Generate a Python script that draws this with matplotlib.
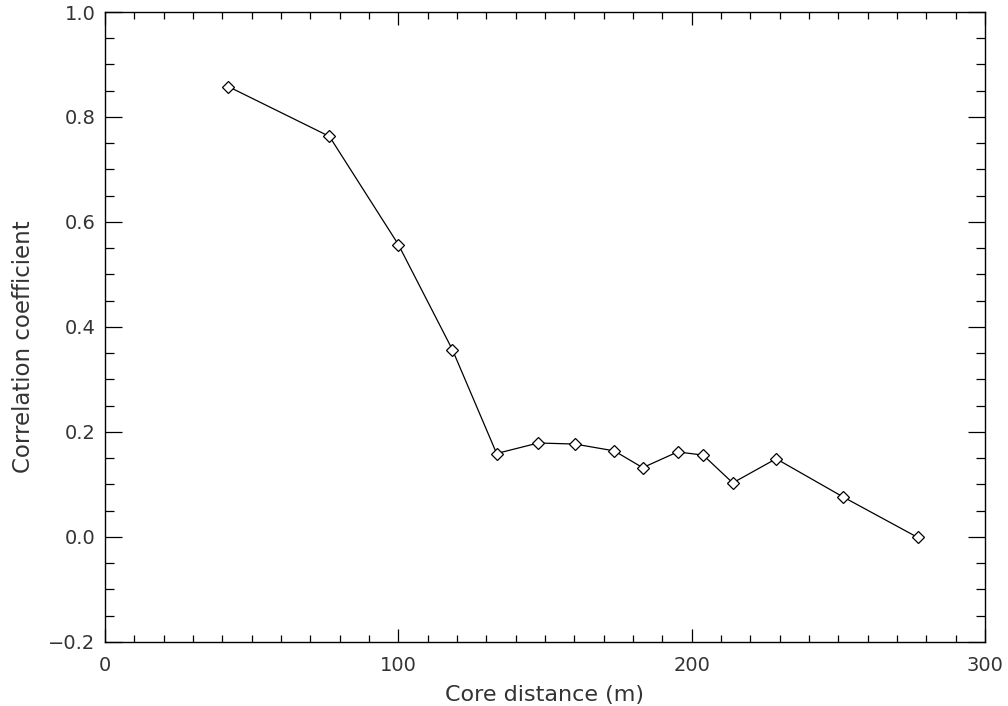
import matplotlib
matplotlib.use('Agg')
import matplotlib.pyplot as plt
from matplotlib.ticker import MultipleLocator

# core distance (m) vs correlation coefficient
distance = [42.0, 76.5, 100.0, 118.4, 133.5, 147.7, 160.2, 173.6, 183.3,
            195.2, 203.9, 214.0, 228.8, 251.7, 277.1]
corr = [0.858, 0.763, 0.557, 0.357, 0.159, 0.179, 0.177, 0.164, 0.132,
        0.162, 0.156, 0.103, 0.149, 0.076, -0.001]

x_ticks = [0, 100, 200, 300]
y_ticks = [-0.2, 0.0, 0.2, 0.4, 0.6, 0.8, 1.0]

txt = '#333333'
plt.rcParams.update({'font.family': 'DejaVu Sans',
                     'font.size': 14,
                     'axes.linewidth': 1.0,
                     'axes.unicode_minus': True})

fig = plt.figure(figsize=(10.08, 7.06), dpi=100)
ax = fig.add_axes([0.1042, 0.0907, 0.873, 0.8923])

ax.plot(distance, corr, color='black', lw=0.9, marker='D', ms=6.2,
        mfc='white', mec='black', mew=0.9)

ax.set_xlim(0, 300)
ax.set_ylim(-0.2, 1.0)
ax.set_xticks(x_ticks)
ax.set_yticks(y_ticks)
ax.set_xticklabels([str(v) for v in x_ticks])
ax.set_yticklabels(['\u22120.2' if v < 0 else '%.1f' % v for v in y_ticks])
ax.xaxis.set_minor_locator(MultipleLocator(10))
ax.yaxis.set_minor_locator(MultipleLocator(0.05))

ax.tick_params(which='both', direction='in', top=True, right=True,
               colors='black', labelcolor=txt, width=0.9)
ax.tick_params(axis='x', which='major', length=9.5, pad=10)
ax.tick_params(axis='x', which='minor', length=4.8)
ax.tick_params(axis='y', which='major', length=12.5, pad=7)
ax.tick_params(axis='y', which='minor', length=6.3)

ax.set_xlabel('Core distance (m)', color=txt, fontsize=16)
ax.set_ylabel('Correlation coefficient', color=txt, fontsize=16.5)
ax.xaxis.set_label_coords(0.499, -0.068)
ax.yaxis.set_label_coords(-0.08, 0.468)

fig.savefig('out.png', dpi=100)
plt.close(fig)
